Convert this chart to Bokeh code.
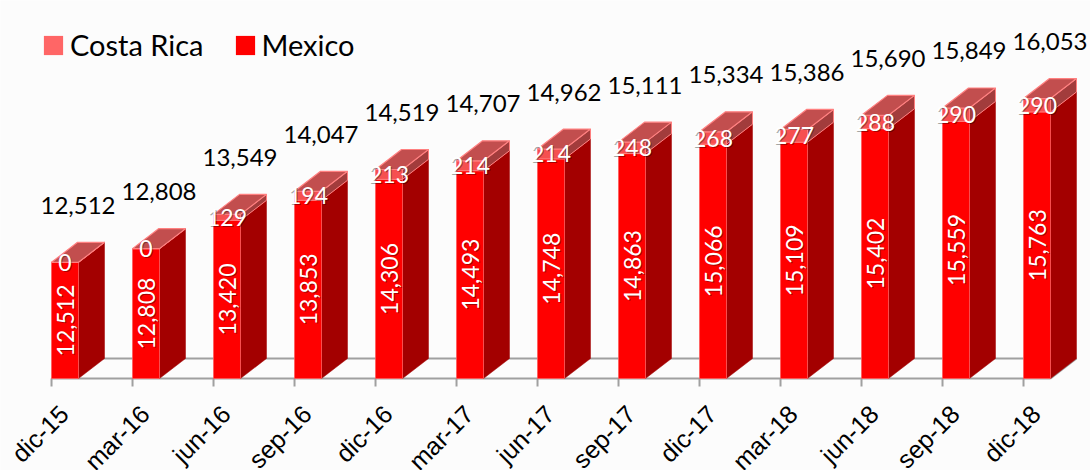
import math
from bokeh.plotting import figure
from bokeh.models import ColumnDataSource, Legend, LegendItem
from bokeh.core.properties import value
from bokeh.embed import file_html
from bokeh.resources import INLINE

# ---- data ----
categories = ["dic-15", "mar-16", "jun-16", "sep-16", "dic-16", "mar-17", "jun-17",
              "sep-17", "dic-17", "mar-18", "jun-18", "sep-18", "dic-18"]
mexico = [12512, 12808, 13420, 13853, 14306, 14493, 14748, 14863, 15066, 15109, 15402, 15559, 15763]
costa_rica = [0, 0, 129, 194, 213, 214, 214, 248, 268, 277, 288, 290, 290]
totals = [m + c for m, c in zip(mexico, costa_rica)]

# ---- scale / geometry (style) ----
BASE = 10000          # value axis minimum
Y_START, Y_END = 8011, 18173
X_START, X_END = -0.630, 12.827
W = 0.333             # front face width (category units)
DX = 0.321            # 3D depth in x (category units)
DY = 432              # 3D depth in y (value units)
TICK = 173            # tick length (value units)

n = len(categories)
idx = list(range(n))

p = figure(width=1090, height=470, output_backend="svg", toolbar_location=None,
           x_range=(X_START, X_END), y_range=(Y_START, Y_END),
           x_axis_location=None, y_axis_location=None,
           min_border=0, min_border_left=0, min_border_right=0,
           min_border_top=0, min_border_bottom=0)
p.grid.visible = False
p.outline_line_color = None
p.background_fill_color = "#FCFCFC"
p.border_fill_color = "#FCFCFC"

GREY = "#A0A0A0"
# floor
last_r = (n - 1) + W
p.segment(x0=[0, DX, last_r], y0=[BASE, BASE + DY, BASE],
          x1=[last_r, last_r + DX, last_r + DX], y1=[BASE, BASE + DY, BASE + DY],
          line_color=GREY, line_width=2)
# ticks
p.segment(x0=idx, y0=[BASE] * n, x1=idx, y1=[BASE - TICK] * n, line_color=GREY, line_width=2)

# faces
left = [i for i in idx]
right = [i + W for i in idx]
src = ColumnDataSource(dict(left=left, right=right, base=[BASE] * n, mex=mexico, tot=totals))

mex_side_xs = [[r, r + DX, r + DX, r] for r in right]
mex_side_ys = [[BASE, BASE + DY, m + DY, m] for m in mexico]
cr_side_ys = [[m, m + DY, t + DY, t] for m, t in zip(mexico, totals)]
top_xs = [[l, r, r + DX, l + DX] for l, r in zip(left, right)]
top_ys = [[t, t, t + DY, t + DY] for t in totals]

p.patches(xs=mex_side_xs, ys=mex_side_ys, fill_color="#A30000", line_color="#A30000", line_width=0.5)
p.quad(left="left", right="right", bottom="base", top="mex", source=src,
       fill_color="#FF0000", line_color="#FF5A5A", line_width=0.8)
p.patches(xs=mex_side_xs, ys=cr_side_ys, fill_color="#A23C3C", line_color="#FF7F7F", line_width=1)
p.quad(left="left", right="right", bottom="mex", top="tot", source=src,
       fill_color="#F65050", line_color="#FF7F7F", line_width=1)
p.patches(xs=top_xs, ys=top_ys, fill_color="#C24E4E", line_color="#FF8080", line_width=1.2)

# legend (proxy renderers, hidden)
r_cr = p.quad(left=[0], right=[W], bottom=[BASE], top=[BASE], fill_color="#FF6666", line_color=None)
r_mx = p.quad(left=[0], right=[W], bottom=[BASE], top=[BASE], fill_color="#FF0000", line_color=None)
r_cr.visible = False
r_mx.visible = False
legend = Legend(items=[LegendItem(label="Costa Rica", renderers=[r_cr]),
                       LegendItem(label="Mexico", renderers=[r_mx])],
                orientation="horizontal", location=(41, 408),
                label_text_font="Lato", label_text_font_size="29px", label_text_color="#000000",
                glyph_width=24, glyph_height=24, label_standoff=5, spacing=29,
                padding=0, margin=0, background_fill_alpha=0, border_line_color=None)
p.add_layout(legend)

# labels
FONT = value("Lato")
cx = [i + W / 2 for i in idx]
mex_mid = [(BASE + m) / 2 for m in mexico]
cr_mid = [m + c / 2 for m, c in zip(mexico, costa_rica)]
fmt = lambda v: f"{v:,}"

lab = ColumnDataSource(dict(cx=cx, mex_mid=mex_mid, cr_mid=cr_mid,
                            mex_t=[fmt(v) for v in mexico], cr_t=[fmt(v) for v in costa_rica],
                            tx=[i + (W + DX) / 2 for i in idx], tot=totals,
                            tot_t=[fmt(v) for v in totals], base=[BASE] * n, cat=categories))

for dx_, dy_, col, alpha in [(1, 1, "#000000", 0.35), (0, 0, "#FFFFFF", 1.0)]:
    p.text(x="cx", y="mex_mid", text="mex_t", source=lab, angle=math.pi / 2,
           text_align="center", text_baseline="middle", text_font=FONT,
           text_font_size="23px", text_color=col, text_alpha=alpha, x_offset=dx_, y_offset=dy_)
    p.text(x="cx", y="cr_mid", text="cr_t", source=lab,
           text_align="center", text_baseline="middle", text_font=FONT,
           text_font_size="23px", text_color=col, text_alpha=alpha, x_offset=dx_, y_offset=dy_)

p.text(x="tx", y="tot", text="tot_t", source=lab, y_offset=-57,
       text_align="center", text_baseline="middle", text_font=FONT,
       text_font_size="24px", text_color="#000000")

# category labels (rotated)
p.text(x="cx", y="base", text="cat", source=lab, angle=math.pi / 4,
       x_offset=-1, y_offset=31, text_align="right", text_baseline="middle",
       text_font=value("Liberation Sans"), text_font_size="25px", text_color="#000000")

open("out.html", "w").write(file_html(p, INLINE))
